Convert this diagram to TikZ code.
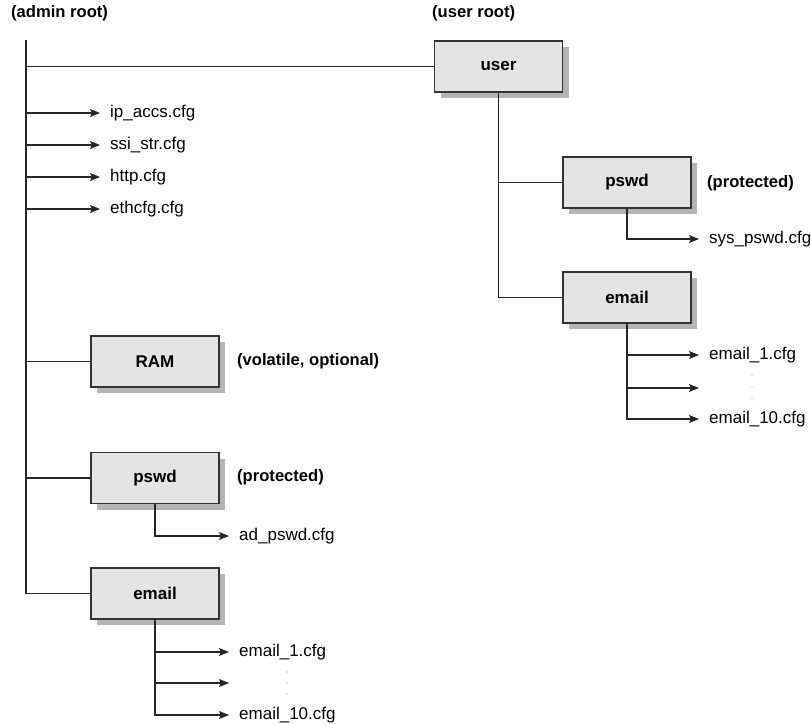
\documentclass[tikz,border=0pt]{standalone}
\usepackage{fontspec}
\setmainfont{Liberation Sans}
\usetikzlibrary{arrows.meta,shadows}
\definecolor{boxfill}{HTML}{E4E4E4}
\definecolor{boxline}{HTML}{333333}
\definecolor{shadowc}{HTML}{B4B4B4}
\tikzset{
  dirbox/.style={draw=boxline, line width=1.2pt, fill=boxfill, minimum width=128pt, minimum height=51pt,
    inner sep=0pt, font=\fontsize{17}{20}\selectfont\bfseries,
    drop shadow={shadow xshift=6pt, shadow yshift=-6pt, fill=shadowc, opacity=1}},
  filelbl/.style={anchor=west, inner xsep=10pt, inner ysep=0pt, text height=12pt, text depth=3.5pt,
    font=\fontsize{17}{20}\selectfont},
  notelbl/.style={anchor=west, inner sep=0pt, text height=12pt, text depth=3.5pt,
    font=\fontsize{16.6}{20}\selectfont\bfseries},
  conn/.style={draw=black!85, line width=1.2pt},
  arr/.style={conn, -{Stealth[length=10pt,width=8pt,inset=2pt]}},
  vdot/.style={fill=gray, draw=none, circle, inner sep=0pt, minimum size=1.3pt}
}
\begin{document}
\begin{tikzpicture}[x=1pt,y=-1pt]
\useasboundingbox (0,0) rectangle (811,725);

% root labels
\node[notelbl] (adminroot) at (11,13) {(admin root)};
\node[notelbl] (userroot) at (432,13) {(user root)};

% boxes
\node[dirbox] (user) at (498.5,66.5) {user};
\node[dirbox] (upswd) at (627,182.5) {pswd};
\node[dirbox] (uemail) at (627,297.5) {email};
\node[dirbox] (ram) at (155,361.5) {RAM};
\node[dirbox] (apswd) at (155,478) {pswd};
\node[dirbox] (aemail) at (155,593.5) {email};

% notes
\node[notelbl] (uprot) at (707,183) {(protected)};
\node[notelbl] (volat) at (237,361) {(volatile, optional)};
\node[notelbl] (aprot) at (237,477) {(protected)};

% admin files
\coordinate (top) at (26,40);
\node[filelbl] (ipaccs) at (100,113) {ip\_accs.cfg};
\node[filelbl] (ssistr) at (100,145) {ssi\_str.cfg};
\node[filelbl] (http) at (100,177) {http.cfg};
\node[filelbl] (ethcfg) at (100,209) {ethcfg.cfg};
\node[filelbl] (adpswd) at (229,536) {ad\_pswd.cfg};
\node[filelbl] (ae1) at (229,652) {email\_1.cfg};
\coordinate (ae5) at (229,683);
\node[filelbl] (ae10) at (229,715) {email\_10.cfg};

% user files
\node[filelbl] (syspswd) at (699,239) {sys\_pswd.cfg};
\node[filelbl] (ue1) at (699,355) {email\_1.cfg};
\coordinate (ue5) at (699,388);
\node[filelbl] (ue10) at (699,419) {email\_10.cfg};

% admin trunk
\draw[conn] (top) |- (aemail.west);
\draw[conn] (top |- user.west) -- (user.west);
\draw[conn] (top |- ram.west) -- (ram.west);
\draw[conn] (top |- apswd.west) -- (apswd.west);
\draw[arr] (top |- ipaccs.west) -- (ipaccs.west);
\draw[arr] (top |- ssistr.west) -- (ssistr.west);
\draw[arr] (top |- http.west) -- (http.west);
\draw[arr] (top |- ethcfg.west) -- (ethcfg.west);

% admin pswd / email
\draw[arr] (apswd.south) |- (adpswd.west);
\draw[arr] (aemail.south) |- (ae10.west);
\draw[arr] (aemail.south |- ae1.west) -- (ae1.west);
\draw[arr] (aemail.south |- ae5) -- (ae5);

% user trunk
\draw[conn] (user.south) |- (uemail.west);
\draw[conn] (user.south |- upswd.west) -- (upswd.west);
\draw[arr] (upswd.south) |- (syspswd.west);
\draw[arr] (uemail.south) |- (ue10.west);
\draw[arr] (uemail.south |- ue1.west) -- (ue1.west);
\draw[arr] (uemail.south |- ue5) -- (ue5);

% ellipsis dots
\node[vdot] (ad1) at (287,672) {};
\node[vdot] (ad2) at (287,683) {};
\node[vdot] (ad3) at (287,694) {};
\node[vdot] (ud1) at (752,375) {};
\node[vdot] (ud2) at (752,387) {};
\node[vdot] (ud3) at (752,398) {};
\end{tikzpicture}
\end{document}
